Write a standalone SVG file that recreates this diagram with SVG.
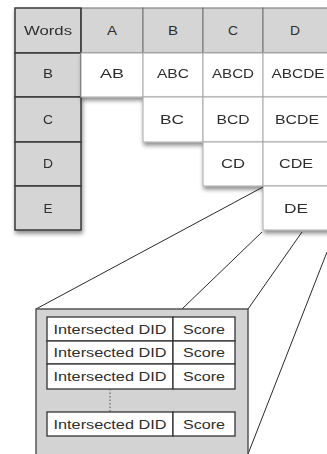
<svg xmlns="http://www.w3.org/2000/svg" width="327" height="454" viewBox="0 0 327 454">
  <style>
    .gray { fill: #d5d5d5; stroke: #3a3a3a; stroke-width: 1.5; }
    .head { fill: #d5d5d5; stroke: #707070; stroke-width: 1; }
    .cell { fill: #ffffff; stroke: #a8a8a8; stroke-width: 1; }
    .lbl { font-family: "Liberation Sans", Arial, sans-serif; font-size: 12px; fill: #2e2e2e; text-anchor: middle; }
    .conn { stroke: #2a2a2a; stroke-width: 1; fill: none; }
    .panel { fill: #d3d3d3; stroke: #4a4a4a; stroke-width: 1.4; }
    .row { fill: #ffffff; stroke: #333333; stroke-width: 1.3; }
    .dots { stroke: #555555; stroke-width: 1; stroke-dasharray: 1.5 2; fill: none; }
  </style>
  <defs>
    <filter id="shadow" x="-10%" y="-10%" width="130%" height="140%">
      <feDropShadow dx="1" dy="3" stdDeviation="2" flood-color="#000000" flood-opacity="0.45"/>
    </filter>
  </defs>

  <rect width="327" height="454" fill="#ffffff"/>

  <!-- row heading column -->
  <g id="left-column" filter="url(#shadow)">
    <g id="words"><rect class="gray" x="15" y="8" width="66" height="45"/><text class="lbl" x="48" y="34.5" textLength="48" lengthAdjust="spacingAndGlyphs">Words</text></g>
    <g id="row-B"><rect class="gray" x="15" y="53" width="66" height="44"/><text class="lbl" x="48" y="78" textLength="10" lengthAdjust="spacingAndGlyphs">B</text></g>
    <g id="row-C"><rect class="gray" x="15" y="97" width="66" height="45"/><text class="lbl" x="48" y="124" textLength="10" lengthAdjust="spacingAndGlyphs">C</text></g>
    <g id="row-D"><rect class="gray" x="15" y="142" width="66" height="44"/><text class="lbl" x="48" y="168" textLength="10" lengthAdjust="spacingAndGlyphs">D</text></g>
    <g id="row-E"><rect class="gray" x="15" y="186" width="66" height="44"/><text class="lbl" x="48" y="212.5" textLength="9" lengthAdjust="spacingAndGlyphs">E</text></g>
  </g>

  <!-- column headings -->
  <g id="col-A"><rect class="head" x="81" y="8" width="62" height="45"/><text class="lbl" x="112" y="34.5" textLength="10" lengthAdjust="spacingAndGlyphs">A</text></g>
  <g id="col-B"><rect class="head" x="143" y="8" width="60" height="45"/><text class="lbl" x="173" y="34.5" textLength="10" lengthAdjust="spacingAndGlyphs">B</text></g>
  <g id="col-C"><rect class="head" x="203" y="8" width="60" height="45"/><text class="lbl" x="233" y="34.5" textLength="10" lengthAdjust="spacingAndGlyphs">C</text></g>
  <g id="col-D"><rect class="head" x="263" y="8" width="70" height="45"/><text class="lbl" x="295" y="34.5" textLength="10" lengthAdjust="spacingAndGlyphs">D</text></g>
  <line x1="81" y1="8" x2="81" y2="53" stroke="#3a3a3a" stroke-width="1.5"/>

  <!-- combination cells -->
  <g filter="url(#shadow)">
    <g id="AB"><rect class="cell" x="81" y="53" width="62" height="44"/><text class="lbl" x="112" y="78" textLength="24" lengthAdjust="spacingAndGlyphs">AB</text></g>
    <g id="ABC"><rect class="cell" x="143" y="53" width="60" height="44"/><text class="lbl" x="173" y="78" textLength="32" lengthAdjust="spacingAndGlyphs">ABC</text></g>
    <g id="ABCD"><rect class="cell" x="203" y="53" width="60" height="44"/><text class="lbl" x="233" y="78" textLength="42" lengthAdjust="spacingAndGlyphs">ABCD</text></g>
    <g id="ABCDE"><rect class="cell" x="263" y="53" width="70" height="44"/><text class="lbl" x="298" y="78" textLength="53" lengthAdjust="spacingAndGlyphs">ABCDE</text></g>
  </g>
  <g filter="url(#shadow)">
    <g id="BC"><rect class="cell" x="143" y="97" width="60" height="45"/><text class="lbl" x="172" y="124" textLength="24" lengthAdjust="spacingAndGlyphs">BC</text></g>
    <g id="BCD"><rect class="cell" x="203" y="97" width="60" height="45"/><text class="lbl" x="233" y="124" textLength="33" lengthAdjust="spacingAndGlyphs">BCD</text></g>
    <g id="BCDE"><rect class="cell" x="263" y="97" width="70" height="45"/><text class="lbl" x="297" y="124" textLength="44" lengthAdjust="spacingAndGlyphs">BCDE</text></g>
  </g>
  <g filter="url(#shadow)">
    <g id="CD"><rect class="cell" x="203" y="142" width="60" height="44"/><text class="lbl" x="233" y="168" textLength="24" lengthAdjust="spacingAndGlyphs">CD</text></g>
    <g id="CDE"><rect class="cell" x="263" y="142" width="70" height="44"/><text class="lbl" x="296" y="168" textLength="34" lengthAdjust="spacingAndGlyphs">CDE</text></g>
  </g>
  <g filter="url(#shadow)">
    <g id="DE"><rect class="cell" x="263" y="186" width="70" height="44"/><text class="lbl" x="296" y="212.5" textLength="24" lengthAdjust="spacingAndGlyphs">DE</text></g>
  </g>

  <!-- projection lines from DE into the detail panel -->
  <g id="connectors">
    <line class="conn" x1="263" y1="187" x2="36" y2="309"/>
    <line class="conn" x1="262" y1="232" x2="182" y2="309"/>
    <line class="conn" x1="302" y1="232" x2="248" y2="309"/>
    <line class="conn" x1="327" y1="252" x2="248" y2="454"/>
  </g>

  <!-- detail panel: intersected document ids with scores -->
  <g id="detail">
    <rect class="panel" x="36" y="309" width="212" height="155"/>
    <g id="entry-1"><rect class="row" x="47" y="317" width="126" height="24"/><rect class="row" x="173" y="317" width="62" height="24"/>
      <text class="lbl" x="110" y="333.5" textLength="113" lengthAdjust="spacingAndGlyphs">Intersected DID</text><text class="lbl" x="204" y="333.5" textLength="42" lengthAdjust="spacingAndGlyphs">Score</text></g>
    <g id="entry-2"><rect class="row" x="47" y="341" width="126" height="23"/><rect class="row" x="173" y="341" width="62" height="23"/>
      <text class="lbl" x="110" y="357" textLength="113" lengthAdjust="spacingAndGlyphs">Intersected DID</text><text class="lbl" x="204" y="357" textLength="42" lengthAdjust="spacingAndGlyphs">Score</text></g>
    <g id="entry-3"><rect class="row" x="47" y="364" width="126" height="25"/><rect class="row" x="173" y="364" width="62" height="25"/>
      <text class="lbl" x="110" y="381" textLength="113" lengthAdjust="spacingAndGlyphs">Intersected DID</text><text class="lbl" x="204" y="381" textLength="42" lengthAdjust="spacingAndGlyphs">Score</text></g>
    <line class="dots" x1="110" y1="389" x2="110" y2="412"/>
    <g id="entry-n"><rect class="row" x="47" y="412" width="126" height="24"/><rect class="row" x="173" y="412" width="62" height="24"/>
      <text class="lbl" x="110" y="428.5" textLength="113" lengthAdjust="spacingAndGlyphs">Intersected DID</text><text class="lbl" x="204" y="428.5" textLength="42" lengthAdjust="spacingAndGlyphs">Score</text></g>
  </g>
</svg>
